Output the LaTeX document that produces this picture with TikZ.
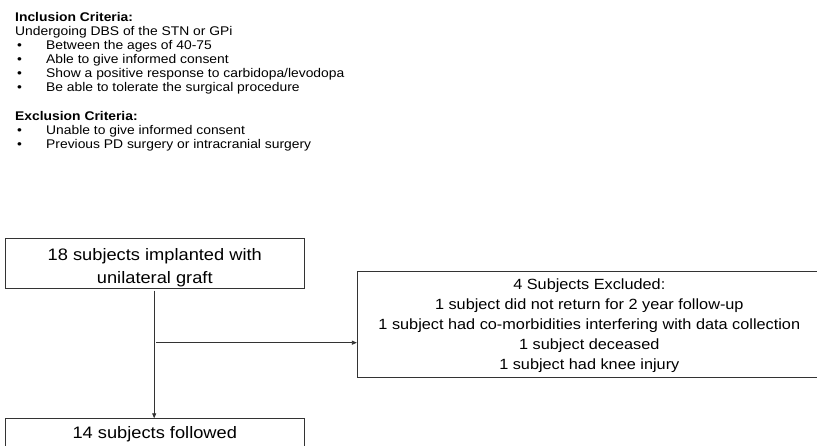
\documentclass[tikz,border=0pt]{standalone}
\usepackage{fontspec}
\setmainfont{Liberation Sans}[FakeStretch=1.1]
\usetikzlibrary{arrows.meta}
\newcommand{\bulitem}{\makebox[31pt][l]{\hspace{2pt}\textbullet}}
\begin{document}
\begin{tikzpicture}[x=1pt,y=-1pt,
  crit/.style={anchor=north west,inner sep=0pt,align=left,font=\fontsize{12.6}{14}\selectfont},
  flowbox/.style={draw=black!80,line width=0.8pt,inner sep=0pt,align=center},
  conn/.style={draw=black!80,line width=0.8pt},
  arr/.style={conn,-{Triangle[length=5pt,width=4pt]}}]
\useasboundingbox (0,0) rectangle (817,445);
\clip (0,0) rectangle (817,445);
% criteria text
\node[crit] (incl) at (15,12) {\textbf{Inclusion Criteria:}\\
Undergoing DBS of the STN or GPi\\
\bulitem Between the ages of 40-75\\
\bulitem Able to give informed consent\\
\bulitem Show a positive response to carbidopa/levodopa\\
\bulitem Be able to tolerate the surgical procedure};
\node[crit] (excl) at (15,111) {\textbf{Exclusion Criteria:}\\
\bulitem Unable to give informed consent\\
\bulitem Previous PD surgery or intracranial surgery};
% flow boxes
\node[flowbox,minimum width=299,minimum height=50,font=\fontsize{16.6}{23}\selectfont]
  (impl) at (154.8,263.3) {\parbox{299pt}{\centering\vspace*{8pt}18 subjects implanted with\\ unilateral graft}};
\node[flowbox,minimum width=464,minimum height=105.5,font=\fontsize{14.8}{20}\selectfont]
  (excluded) at (589.3,324.5) {\parbox{464pt}{\centering\vspace*{2pt}4 Subjects Excluded:\\
1 subject did not return for 2 year follow-up\\
1 subject had co-morbidities interfering with data collection\\
1 subject deceased\\
1 subject had knee injury}};
\node[flowbox,anchor=north,minimum width=299,minimum height=32,font=\fontsize{16.6}{18}\selectfont]
  (followed) at (154.8,418.3) {14 subjects followed};
% connectors
\coordinate (split) at (156.3,342.7);
\draw[arr,shorten <=2pt] (impl.south -| 154.2,0) -- (followed.north -| 154.2,0);
\draw[arr] (split) -- (excluded.west |- split);
\end{tikzpicture}
\end{document}
